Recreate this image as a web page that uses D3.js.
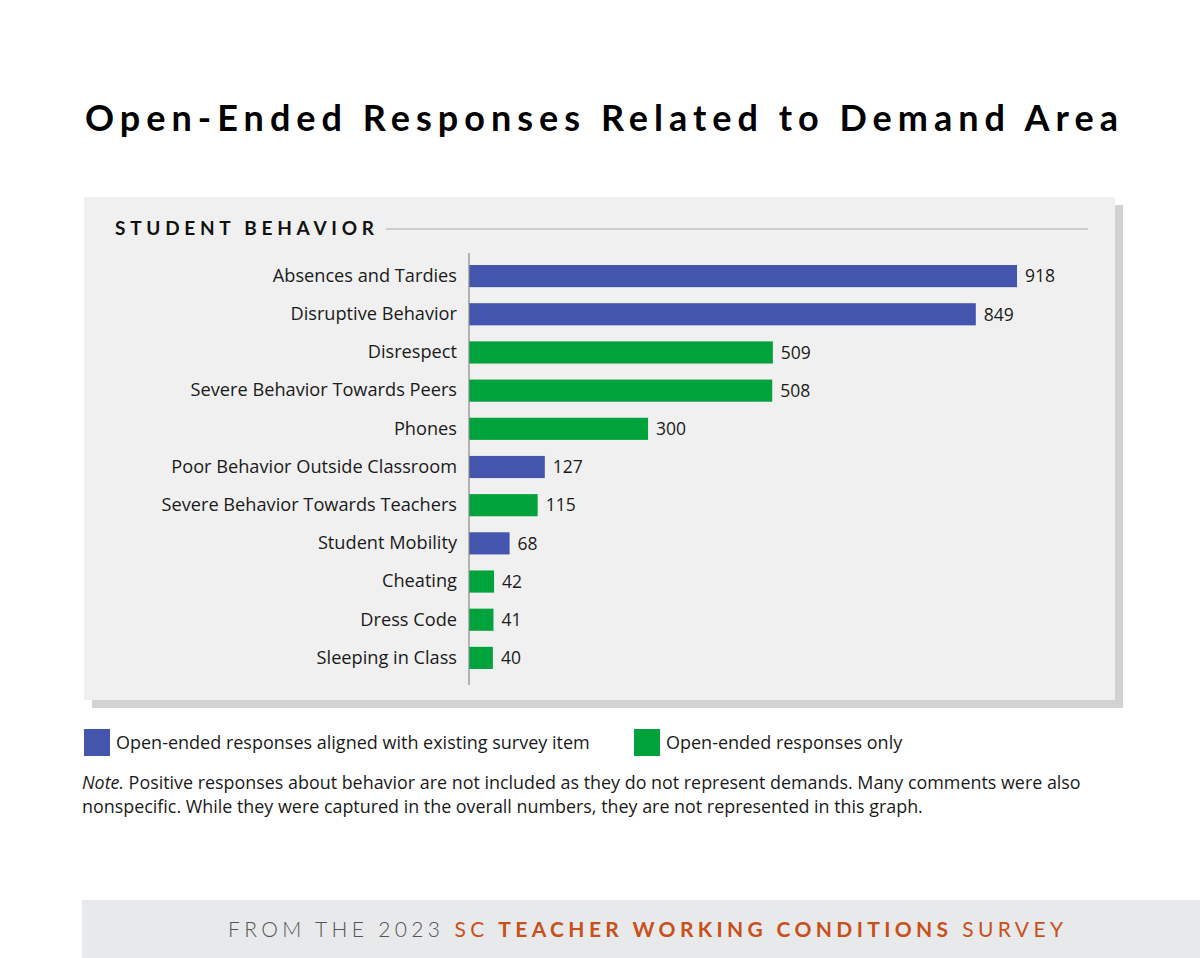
<!DOCTYPE html>
<html>
<head>
<meta charset="utf-8">
<script src="https://cdn.jsdelivr.net/npm/d3@7"></script>
<style>
  body { margin: 0; background: #fff; }
  svg { display: block; font-family: "Open Sans", Lato, sans-serif; }
</style>
</head>
<body>
<div id="chart"></div>
<script>
var categories = ["Absences and Tardies", "Disruptive Behavior", "Disrespect",
  "Severe Behavior Towards Peers", "Phones", "Poor Behavior Outside Classroom",
  "Severe Behavior Towards Teachers", "Student Mobility", "Cheating",
  "Dress Code", "Sleeping in Class"];
var values = [918, 849, 509, 508, 300, 127, 115, 68, 42, 41, 40];
var groups = ["aligned", "aligned", "only", "only", "only", "aligned",
  "only", "aligned", "only", "only", "only"];
var legendLabels = ["Open-ended responses aligned with existing survey item",
  "Open-ended responses only"];

var width = 1200;
var height = 958;
var blue = "#4355ad";
var green = "#00a23c";
var color = d3.scaleOrdinal().domain(["aligned", "only"]).range([blue, green]);

var svg = d3.select("#chart")
  .append("svg")
  .attr("width", width)
  .attr("height", height);

// title
svg.append("text")
  .attr("x", 85)
  .attr("y", 131)
  .attr("textLength", 1033)
  .attr("lengthAdjust", "spacing")
  .style("font-family", "Lato, sans-serif")
  .style("font-size", "36px")
  .style("font-weight", "bold")
  .style("fill", "#000")
  .text("Open-Ended Responses Related to Demand Area");

// panel + shadow
svg.append("rect")
  .attr("x", 92).attr("y", 205)
  .attr("width", 1031).attr("height", 503)
  .style("fill", "#d2d2d4");
svg.append("rect")
  .attr("x", 84).attr("y", 197)
  .attr("width", 1031).attr("height", 503)
  .style("fill", "#f0f0f0");

svg.append("text")
  .attr("x", 115)
  .attr("y", 235)
  .attr("textLength", 259)
  .attr("lengthAdjust", "spacing")
  .style("font-family", "Lato, sans-serif")
  .style("font-size", "19px")
  .style("font-weight", "bold")
  .style("fill", "#111")
  .text("STUDENT BEHAVIOR");

svg.append("line")
  .attr("x1", 386).attr("x2", 1088)
  .attr("y1", 229).attr("y2", 229)
  .style("stroke", "#a8a8a8")
  .style("stroke-width", 1.2);

// bars
var x = d3.scaleLinear()
  .domain([0, 918])
  .range([469, 1017]);

var y = d3.scaleBand()
  .domain(categories)
  .range([257, 677])
  .paddingInner(0.42)
  .paddingOuter(0.21);

var data = categories.map(function(d, i) {
  return { name: d, value: values[i], group: groups[i] };
});

svg.selectAll(".bar")
  .data(data)
  .enter().append("rect")
  .attr("class", "bar")
  .attr("x", x(0))
  .attr("y", function(d) { return y(d.name); })
  .attr("width", function(d) { return x(d.value) - x(0); })
  .attr("height", y.bandwidth())
  .style("fill", function(d) { return color(d.group); });

svg.selectAll(".value")
  .data(data)
  .enter().append("text")
  .attr("class", "value")
  .attr("x", function(d) { return x(d.value) + 8; })
  .attr("y", function(d) { return y(d.name) + y.bandwidth() / 2; })
  .attr("dy", "0.36em")
  .style("font-size", "17.5px")
  .style("fill", "#1a1a1a")
  .text(function(d) { return d.value; });

// category axis
var yAxis = svg.append("g")
  .attr("transform", "translate(469,0)")
  .call(d3.axisLeft(y).tickSize(0).tickPadding(12));
yAxis.select(".domain").remove();
yAxis.selectAll("text")
  .style("font-family", "'Open Sans', Lato, sans-serif")
  .style("font-size", "18.2px")
  .style("fill", "#1a1a1a");

svg.append("line")
  .attr("x1", 469).attr("x2", 469)
  .attr("y1", 253).attr("y2", 685)
  .style("stroke", "#8a8a8a")
  .style("stroke-width", 1.2);

// legend
var legendX = [84, 634];
var legend = svg.selectAll(".legend")
  .data(legendLabels)
  .enter().append("g")
  .attr("class", "legend")
  .attr("transform", function(d, i) { return "translate(" + legendX[i] + ",729)"; });

legend.append("rect")
  .attr("width", 26).attr("height", 27)
  .style("fill", function(d, i) { return [blue, green][i]; });

legend.append("text")
  .attr("x", 32).attr("y", 20)
  .style("font-size", "18px")
  .style("fill", "#1a1a1a")
  .text(function(d) { return d; });

// note
var note = svg.append("text")
  .attr("x", 82)
  .attr("y", 789)
  .style("font-size", "17.9px")
  .style("fill", "#1a1a1a");
note.append("tspan")
  .style("font-style", "italic")
  .text("Note.");
note.append("tspan")
  .text(" Positive responses about behavior are not included as they do not represent demands. Many comments were also");
svg.append("text")
  .attr("x", 82)
  .attr("y", 813)
  .style("font-size", "17.9px")
  .style("fill", "#1a1a1a")
  .text("nonspecific. While they were captured in the overall numbers, they are not represented in this graph.");

// footer band
svg.append("rect")
  .attr("x", 82).attr("y", 900)
  .attr("width", 1118).attr("height", 58)
  .style("fill", "#e8e9ea");

var footer = svg.append("text")
  .attr("x", 228)
  .attr("y", 937)
  .attr("textLength", 835)
  .attr("lengthAdjust", "spacing")
  .style("font-family", "Lato, sans-serif")
  .style("font-size", "21px");
footer.append("tspan")
  .style("fill", "#555")
  .style("font-weight", 300)
  .text("FROM THE 2023 ");
footer.append("tspan")
  .style("fill", "#c8501a")
  .text("SC ");
footer.append("tspan")
  .style("fill", "#c8501a")
  .style("font-weight", "bold")
  .text("TEACHER WORKING CONDITIONS");
footer.append("tspan")
  .style("fill", "#c8501a")
  .text(" SURVEY");
</script>
</body>
</html>
